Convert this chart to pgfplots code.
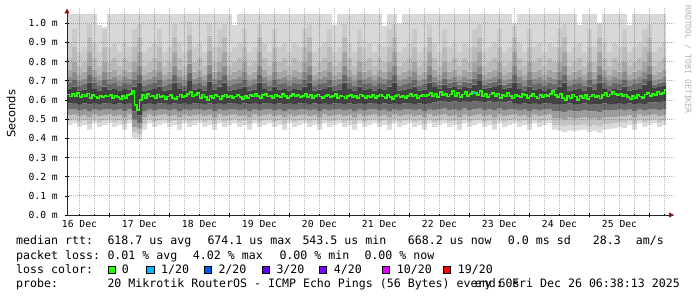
\documentclass[border=0pt]{standalone}
\usepackage{pgfplots}
\pgfplotsset{compat=1.18}
\usepackage{pgfplotstable}
\usepgfplotslibrary{fillbetween}
\usetikzlibrary{arrows.meta}
\usepackage{fontspec}
\newfontfamily\rrdmono{DejaVu Sans Mono}
\newfontfamily\rrdsans{DejaVu Sans}
\newcommand\legfont{\rrdmono\fontsize{11.6bp}{14bp}\selectfont}
\newcommand\axfont{\rrdmono\fontsize{9.7bp}{12bp}\selectfont}
\newcommand\wmfont{\rrdmono\fontsize{8.2bp}{10bp}\selectfont}
\definecolor{lossA}{HTML}{26FF00}
\definecolor{lossB}{HTML}{00B8FF}
\definecolor{lossC}{HTML}{0059FF}
\definecolor{lossD}{HTML}{5E00FF}
\definecolor{lossE}{HTML}{7E00FF}
\definecolor{lossF}{HTML}{DD00FF}
\definecolor{lossG}{HTML}{FF0000}
\definecolor{arrowred}{RGB}{140,20,20}
\definecolor{mgrid}{RGB}{190,40,40}
\definecolor{s1}{HTML}{DADADA}
\definecolor{s2}{HTML}{C2C2C2}
\definecolor{s3}{HTML}{9C9C9C}
\definecolor{s4}{HTML}{6C6C6C}
\definecolor{s5}{HTML}{424242}
\definecolor{s6}{HTML}{686868}
\definecolor{s7}{HTML}{8A8A8A}
\definecolor{s8}{HTML}{A4A4A4}
\definecolor{s9}{HTML}{BABABA}
\definecolor{s10}{HTML}{CACACA}
\definecolor{s11}{HTML}{D8D8D8}

\pgfplotstableread{
h lo q1 q2 q3 q4 u1 u2 u3 u4 u5 u6 hi
0 .470 .492 .520 .550 .582 .658 .688 .720 .760 .820 .900 1.048
2 .478 .498 .524 .552 .584 .670 .705 .745 .800 .880 .970 1.048
4 .460 .485 .514 .545 .578 .650 .672 .700 .730 .780 .850 1.048
6 .470 .492 .520 .550 .582 .655 .682 .712 .748 .800 .875 1.048
8 .445 .475 .508 .542 .576 .690 .730 .780 .850 .930 1.000 1.048
10 .478 .498 .524 .552 .584 .658 .688 .720 .760 .820 .900 1.048
12 .460 .485 .514 .545 .578 .650 .672 .700 .730 .780 .850 .990
14 .470 .492 .520 .550 .582 .670 .705 .745 .800 .880 .970 .980
16 .478 .498 .524 .552 .584 .655 .682 .712 .748 .800 .875 1.048
18 .460 .485 .514 .545 .578 .658 .688 .720 .760 .820 .900 1.048
20 .470 .492 .520 .550 .582 .650 .672 .700 .730 .780 .850 1.048
22 .445 .475 .508 .542 .576 .658 .688 .720 .760 .820 .900 1.048
24 .478 .498 .524 .552 .584 .655 .682 .712 .748 .800 .875 1.048
26 .400 .430 .460 .500 .540 .670 .705 .745 .800 .880 .970 1.048
28 .390 .420 .450 .480 .520 .690 .730 .780 .850 .930 1.000 1.048
30 .445 .475 .508 .542 .576 .650 .672 .700 .730 .780 .850 1.048
32 .478 .498 .524 .552 .584 .655 .682 .712 .748 .800 .875 1.048
34 .460 .485 .514 .545 .578 .658 .688 .720 .760 .820 .900 1.048
36 .470 .492 .520 .550 .582 .670 .705 .745 .800 .880 .970 1.048
38 .478 .498 .524 .552 .584 .650 .672 .700 .730 .780 .850 1.048
40 .460 .485 .514 .545 .578 .655 .682 .712 .748 .800 .875 1.048
42 .470 .492 .520 .550 .582 .690 .730 .780 .850 .930 1.000 1.048
44 .445 .475 .508 .542 .576 .658 .688 .720 .760 .820 .900 1.048
46 .478 .498 .524 .552 .584 .650 .672 .700 .730 .780 .850 1.048
48 .460 .485 .514 .545 .578 .700 .740 .790 .860 .940 1.010 1.048
50 .470 .492 .520 .550 .582 .655 .682 .712 .748 .800 .875 1.048
52 .478 .498 .524 .552 .584 .658 .688 .720 .760 .820 .900 1.048
54 .460 .485 .514 .545 .578 .650 .672 .700 .730 .780 .850 1.048
56 .470 .492 .520 .550 .582 .695 .735 .785 .855 .935 1.005 1.048
58 .445 .475 .508 .542 .576 .655 .682 .712 .748 .800 .875 1.048
60 .478 .498 .524 .552 .584 .670 .705 .745 .800 .880 .970 1.048
62 .460 .485 .514 .545 .578 .690 .730 .780 .850 .930 1.000 1.048
64 .470 .492 .520 .550 .582 .650 .672 .700 .730 .780 .850 1.048
66 .478 .498 .524 .552 .584 .655 .682 .712 .748 .800 .875 .990
68 .460 .485 .514 .545 .578 .658 .688 .720 .760 .820 .900 1.048
70 .470 .492 .520 .550 .582 .670 .705 .745 .800 .880 .970 1.048
72 .445 .475 .508 .542 .576 .650 .672 .700 .730 .780 .850 1.048
74 .478 .498 .524 .552 .584 .655 .682 .712 .748 .800 .875 1.048
76 .460 .485 .514 .545 .578 .690 .730 .780 .850 .930 1.000 1.048
78 .470 .492 .520 .550 .582 .658 .688 .720 .760 .820 .900 1.048
80 .478 .498 .524 .552 .584 .650 .672 .700 .730 .780 .850 1.048
82 .460 .485 .514 .545 .578 .670 .705 .745 .800 .880 .970 1.048
84 .470 .492 .520 .550 .582 .655 .682 .712 .748 .800 .875 1.048
86 .445 .475 .508 .542 .576 .658 .688 .720 .760 .820 .900 1.048
88 .478 .498 .524 .552 .584 .650 .672 .700 .730 .780 .850 1.048
90 .460 .485 .514 .545 .578 .658 .688 .720 .760 .820 .900 1.048
92 .470 .492 .520 .550 .582 .655 .682 .712 .748 .800 .875 1.048
94 .478 .498 .524 .552 .584 .670 .705 .745 .800 .880 .970 1.048
96 .460 .485 .514 .545 .578 .690 .730 .780 .850 .930 1.000 1.048
98 .470 .492 .520 .550 .582 .650 .672 .700 .730 .780 .850 1.048
100 .445 .475 .508 .542 .576 .655 .682 .712 .748 .800 .875 1.048
102 .478 .498 .524 .552 .584 .658 .688 .720 .760 .820 .900 1.048
104 .460 .485 .514 .545 .578 .670 .705 .745 .800 .880 .970 1.048
106 .470 .492 .520 .550 .582 .650 .672 .700 .730 .780 .850 .990
108 .478 .498 .524 .552 .584 .655 .682 .712 .748 .800 .875 1.048
110 .460 .485 .514 .545 .578 .690 .730 .780 .850 .930 1.000 1.048
112 .470 .492 .520 .550 .582 .658 .688 .720 .760 .820 .900 1.048
114 .445 .475 .508 .542 .576 .650 .672 .700 .730 .780 .850 1.048
116 .478 .498 .524 .552 .584 .670 .705 .745 .800 .880 .970 1.048
118 .460 .485 .514 .545 .578 .655 .682 .712 .748 .800 .875 1.048
120 .470 .492 .520 .550 .582 .658 .688 .720 .760 .820 .900 1.048
122 .478 .498 .524 .552 .584 .650 .672 .700 .730 .780 .850 1.048
124 .460 .485 .514 .545 .578 .658 .688 .720 .760 .820 .900 1.048
126 .470 .492 .520 .550 .582 .655 .682 .712 .748 .800 .875 .985
128 .445 .475 .508 .542 .576 .670 .705 .745 .800 .880 .970 1.048
130 .478 .498 .524 .552 .584 .690 .730 .780 .850 .930 1.000 1.048
132 .460 .485 .514 .545 .578 .650 .672 .700 .730 .780 .850 1.000
134 .470 .492 .520 .550 .582 .655 .682 .712 .748 .800 .875 1.048
136 .478 .498 .524 .552 .584 .658 .688 .720 .760 .820 .900 1.048
138 .460 .485 .514 .545 .578 .670 .705 .745 .800 .880 .970 1.048
140 .470 .492 .520 .550 .582 .650 .672 .700 .730 .780 .850 1.048
142 .445 .475 .508 .542 .576 .655 .682 .712 .748 .800 .875 1.048
144 .478 .498 .524 .552 .584 .690 .730 .780 .850 .930 1.000 1.048
146 .460 .485 .514 .548 .588 .668 .696 .720 .760 .820 .900 1.048
148 .470 .492 .520 .553 .592 .660 .680 .700 .730 .780 .850 1.048
150 .478 .498 .524 .555 .594 .680 .713 .745 .800 .880 .970 1.048
152 .460 .485 .514 .548 .588 .665 .690 .712 .748 .800 .875 1.048
154 .470 .492 .520 .553 .592 .668 .696 .720 .760 .820 .900 1.048
156 .445 .475 .508 .545 .586 .660 .680 .700 .730 .780 .850 1.048
158 .478 .498 .524 .555 .594 .668 .696 .720 .760 .820 .900 1.048
160 .460 .485 .514 .548 .588 .665 .690 .712 .748 .800 .875 1.048
162 .470 .492 .520 .553 .592 .680 .713 .745 .800 .880 .970 1.048
164 .478 .498 .524 .555 .594 .700 .738 .780 .850 .930 1.000 1.048
166 .460 .485 .514 .548 .588 .660 .680 .700 .730 .780 .850 1.048
168 .470 .492 .520 .553 .592 .665 .690 .712 .748 .800 .875 1.048
170 .445 .475 .508 .545 .586 .668 .696 .720 .760 .820 .900 1.048
172 .478 .498 .524 .555 .594 .680 .713 .745 .800 .880 .970 1.048
174 .460 .485 .514 .548 .588 .660 .680 .700 .730 .780 .850 1.048
176 .470 .492 .520 .553 .592 .665 .690 .712 .748 .800 .875 1.048
178 .478 .498 .524 .552 .584 .690 .730 .780 .850 .930 1.000 .985
180 .460 .485 .514 .545 .578 .658 .688 .720 .760 .820 .900 1.048
182 .470 .492 .520 .550 .582 .650 .672 .700 .730 .780 .850 1.048
184 .445 .475 .508 .542 .576 .670 .705 .745 .800 .880 .970 1.048
186 .478 .498 .524 .552 .584 .655 .682 .712 .748 .800 .875 1.048
188 .460 .485 .514 .545 .578 .658 .688 .720 .760 .820 .900 1.048
190 .470 .492 .520 .550 .582 .650 .672 .700 .730 .780 .850 1.048
192 .478 .498 .524 .552 .584 .658 .688 .720 .760 .820 .900 1.048
194 .445 .470 .505 .540 .578 .655 .682 .712 .748 .800 .875 1.048
196 .440 .468 .505 .542 .580 .670 .705 .745 .800 .880 .970 1.048
198 .432 .462 .500 .538 .576 .690 .730 .780 .850 .930 1.000 1.048
200 .440 .470 .508 .545 .582 .650 .672 .700 .730 .780 .850 1.048
202 .436 .466 .503 .540 .578 .655 .682 .712 .748 .800 .875 1.048
204 .442 .470 .506 .543 .580 .658 .688 .720 .760 .820 .900 .990
206 .445 .473 .510 .546 .582 .650 .672 .700 .730 .780 .850 1.048
208 .434 .464 .502 .540 .578 .670 .705 .745 .800 .880 .970 1.048
210 .440 .470 .506 .543 .580 .655 .682 .712 .748 .800 .875 1.048
212 .430 .462 .500 .538 .576 .690 .730 .780 .850 .930 1.000 .995
214 .445 .473 .510 .546 .582 .658 .688 .720 .760 .820 .900 1.048
216 .448 .475 .510 .544 .578 .650 .672 .700 .730 .780 .850 1.048
218 .452 .478 .512 .546 .580 .658 .688 .720 .760 .820 .900 1.048
220 .458 .484 .516 .549 .583 .655 .682 .712 .748 .800 .875 1.048
222 .455 .482 .513 .545 .578 .670 .705 .745 .800 .880 .970 1.048
224 .470 .492 .520 .550 .582 .650 .672 .700 .730 .780 .850 .990
226 .445 .475 .508 .542 .576 .655 .682 .712 .748 .800 .875 1.048
228 .478 .498 .524 .552 .584 .658 .688 .720 .760 .820 .900 1.048
230 .460 .485 .514 .545 .580 .680 .713 .745 .800 .880 .970 1.048
232 .470 .492 .520 .550 .586 .700 .738 .780 .850 .930 1.000 1.048
234 .478 .498 .524 .552 .588 .662 .680 .700 .730 .780 .850 1.048
236 .460 .485 .514 .548 .590 .668 .690 .712 .748 .800 .875 1.048
238 .470 .492 .520 .553 .594 .672 .696 .720 .760 .820 .900 1.048
239.6 .470 .492 .520 .553 .594 .672 .696 .720 .760 .820 .900 1.048
}\smoke

\pgfplotstableread{
h med
0 .628
1 .618
2 .632
3 .622
4 .636
5 .615
6 .628
7 .620
8 .634
9 .612
10 .625
11 .618
12 .610
13 .622
14 .614
15 .620
16 .618
17 .626
18 .610
19 .622
20 .616
21 .607
22 .620
23 .612
24 .624
25 .632
26 .645
27 .572
28 .548
29 .600
30 .626
31 .612
32 .630
33 .618
34 .622
35 .610
36 .628
37 .616
38 .620
39 .605
40 .618
41 .625
42 .612
43 .603
44 .618
45 .628
46 .615
47 .622
48 .630
49 .642
50 .618
51 .625
52 .635
53 .610
54 .628
55 .615
56 .600
57 .622
58 .612
59 .625
60 .618
61 .607
62 .620
63 .628
64 .614
65 .622
66 .610
67 .618
68 .626
69 .615
70 .605
71 .620
72 .612
73 .626
74 .618
75 .630
76 .620
77 .610
78 .625
79 .632
80 .618
81 .622
82 .610
83 .628
84 .620
85 .615
86 .630
87 .622
88 .612
89 .620
90 .632
91 .618
92 .626
93 .614
94 .622
95 .630
96 .616
97 .624
98 .612
99 .620
100 .628
101 .618
102 .610
103 .622
104 .626
105 .615
106 .620
107 .630
108 .612
109 .622
110 .618
111 .608
112 .620
113 .626
114 .615
115 .620
116 .612
117 .628
118 .620
119 .610
120 .622
121 .616
122 .625
123 .612
124 .620
125 .628
126 .618
127 .610
128 .624
129 .616
130 .605
131 .620
132 .628
133 .615
134 .622
135 .610
136 .620
137 .632
138 .618
139 .625
140 .612
141 .620
142 .628
143 .618
144 .626
145 .635
146 .620
147 .630
148 .615
149 .640
150 .625
151 .632
152 .618
153 .628
154 .645
155 .622
156 .636
157 .615
158 .628
159 .640
160 .620
161 .632
162 .642
163 .636
164 .625
165 .645
166 .620
167 .632
168 .615
169 .628
170 .638
171 .622
172 .630
173 .612
174 .626
175 .618
176 .635
177 .620
178 .610
179 .628
180 .622
181 .615
182 .630
183 .624
184 .612
185 .620
186 .632
187 .618
188 .608
189 .625
190 .615
191 .628
192 .620
193 .632
194 .645
195 .625
196 .615
197 .630
198 .612
199 .600
200 .622
201 .610
202 .628
203 .618
204 .598
205 .620
206 .612
207 .625
208 .605
209 .618
210 .628
211 .615
212 .622
213 .608
214 .625
215 .635
216 .618
217 .628
218 .642
219 .630
220 .625
221 .632
222 .620
223 .628
224 .615
225 .605
226 .622
227 .612
228 .625
229 .618
230 .610
231 .628
232 .635
233 .620
234 .632
235 .625
236 .640
237 .630
238 .638
239 .650
239.6 .650
}\median

\begin{document}
\begin{tikzpicture}
\begin{axis}[
  set layers,
  fill between/on layer=axis background,
  scale only axis,
  at={(67bp,82bp)}, anchor=south west,
  width=607bp, height=206.5bp,
  xmin=0, xmax=242.8, ymin=0, ymax=1.077,
  axis lines=left,
  axis line style={draw=black!85, line width=0.8bp},
  x axis line style={-{Triangle[color=arrowred,length=5bp,width=5bp]}},
  y axis line style={-{Triangle[color=arrowred,length=5bp,width=5bp]}},
  xtick={17,41,65,89,113,137,161,185,209,233},
  xticklabels={},
  minor xtick={5,11,23,29,35,47,53,59,71,77,83,95,101,107,119,125,131,143,149,155,167,173,179,191,197,203,215,221,227,239},
  extra x ticks={5,29,53,77,101,125,149,173,197,221},
  extra x tick labels={16 Dec,17 Dec,18 Dec,19 Dec,20 Dec,21 Dec,22 Dec,23 Dec,24 Dec,25 Dec},
  extra x tick style={grid=none, major tick length=0pt},
  xticklabel style={font=\axfont, anchor=base, yshift=-13bp, inner sep=0pt},
  ytick={0,0.1,0.2,0.3,0.4,0.5,0.6,0.7,0.8,0.9,1.0},
  yticklabels={0.0 m,0.1 m,0.2 m,0.3 m,0.4 m,0.5 m,0.6 m,0.7 m,0.8 m,0.9 m,1.0 m},
  yticklabel style={font=\axfont, anchor=east, inner sep=0pt, xshift=-7bp},
  tick align=center,
  major tick length=4bp,
  minor tick length=2bp,
  tick style={black, line width=0.6bp},
  grid=both,
  major grid style={draw=mgrid, opacity=0.45, line width=0.8bp, dash pattern=on 1bp off 1bp},
  minor grid style={draw=black, opacity=0.28, line width=0.8bp, dash pattern=on 1bp off 1bp},
]
\addplot[const plot, draw=none, name path=B0] table[x=h,y=lo]{\smoke};
\addplot[const plot, draw=none, name path=B1] table[x=h,y=q1]{\smoke};
\addplot[const plot, draw=none, name path=B2] table[x=h,y=q2]{\smoke};
\addplot[const plot, draw=none, name path=B3] table[x=h,y=q3]{\smoke};
\addplot[const plot, draw=none, name path=B4] table[x=h,y=q4]{\smoke};
\addplot[const plot, draw=none, name path=B5] table[x=h,y=u1]{\smoke};
\addplot[const plot, draw=none, name path=B6] table[x=h,y=u2]{\smoke};
\addplot[const plot, draw=none, name path=B7] table[x=h,y=u3]{\smoke};
\addplot[const plot, draw=none, name path=B8] table[x=h,y=u4]{\smoke};
\addplot[const plot, draw=none, name path=B9] table[x=h,y=u5]{\smoke};
\addplot[const plot, draw=none, name path=B10] table[x=h,y=u6]{\smoke};
\addplot[const plot, draw=none, name path=B11] table[x=h,y=hi]{\smoke};
\addplot[fill=s1, draw=none] fill between[of=B0 and B1];
\addplot[fill=s2, draw=none] fill between[of=B1 and B2];
\addplot[fill=s3, draw=none] fill between[of=B2 and B3];
\addplot[fill=s4, draw=none] fill between[of=B3 and B4];
\addplot[fill=s5, draw=none] fill between[of=B4 and B5];
\addplot[fill=s6, draw=none] fill between[of=B5 and B6];
\addplot[fill=s7, draw=none] fill between[of=B6 and B7];
\addplot[fill=s8, draw=none] fill between[of=B7 and B8];
\addplot[fill=s9, draw=none] fill between[of=B8 and B9];
\addplot[fill=s10, draw=none] fill between[of=B9 and B10];
\addplot[fill=s11, draw=none] fill between[of=B10 and B11];
\addplot[const plot, draw=lossA, line width=1.8bp] table[x=h,y=med]{\median};
\addplot[const plot, draw=lossB, line width=1.8bp] coordinates {(162.4,0.636) (163.2,0.636)};
\end{axis}
% y label and watermark
\node[rotate=90, font=\rrdsans\fontsize{11.4bp}{13bp}\selectfont, inner sep=0pt] at (11bp,183bp) {Seconds};
\node[rotate=-90, anchor=west, inner sep=0pt, font=\wmfont, text=black!30] at (688bp,292bp) {RRDTOOL / TOBI OETIKER};
% legend row 1
\begin{scope}[every node/.style={anchor=base west, inner sep=0pt, font=\legfont}]
\node at (16bp,52bp) {median rtt:};
\node at (107.3bp,52bp) {618.7 us avg};
\node at (207.3bp,52bp) {674.1 us max};
\node at (302.3bp,52bp) {543.5 us min};
\node at (407.7bp,52bp) {668.2 us now};
\node at (507.7bp,52bp) {0.0 ms sd};
\node at (592.7bp,52bp) {28.3};
\node at (635.7bp,52bp) {am/s};
% row 2
\node at (16bp,38bp) {packet loss:};
\node at (107.3bp,38bp) {0.01 \% avg};
\node at (192.7bp,38bp) {4.02 \% max};
\node at (279.3bp,38bp) {0.00 \% min};
\node at (364.3bp,38bp) {0.00 \% now};
% row 3
\node at (16bp,24bp) {loss color:};
\node at (121.7bp,24bp) {0};
\node at (161bp,24bp) {1/20};
\node at (218.3bp,24bp) {2/20};
\node at (276.3bp,24bp) {3/20};
\node at (333.6bp,24bp) {4/20};
\node at (396.7bp,24bp) {10/20};
\node at (457.7bp,24bp) {19/20};
% row 4
\node at (16bp,10bp) {probe:};
\node at (107.3bp,10bp) {20 Mikrotik RouterOS - ICMP Echo Pings (56 Bytes) every 60s};
\end{scope}
\node[anchor=base east, inner sep=0pt, font=\legfont] at (680bp,10bp) {end: Fri Dec 26 06:38:13 2025};
% loss color swatches
\begin{scope}[line width=0.7bp]
\draw[fill=lossA] (108bp,23.5bp) rectangle (115.5bp,31bp);
\draw[fill=lossB] (146.7bp,23.5bp) rectangle (154.2bp,31bp);
\draw[fill=lossC] (204bp,23.5bp) rectangle (211.5bp,31bp);
\draw[fill=lossD] (262bp,23.5bp) rectangle (269.5bp,31bp);
\draw[fill=lossE] (319.3bp,23.5bp) rectangle (326.8bp,31bp);
\draw[fill=lossF] (382.3bp,23.5bp) rectangle (389.8bp,31bp);
\draw[fill=lossG] (443.3bp,23.5bp) rectangle (450.8bp,31bp);
\end{scope}
\pgfresetboundingbox
\useasboundingbox (0,0) rectangle (697bp,297bp);
\end{tikzpicture}
\end{document}
